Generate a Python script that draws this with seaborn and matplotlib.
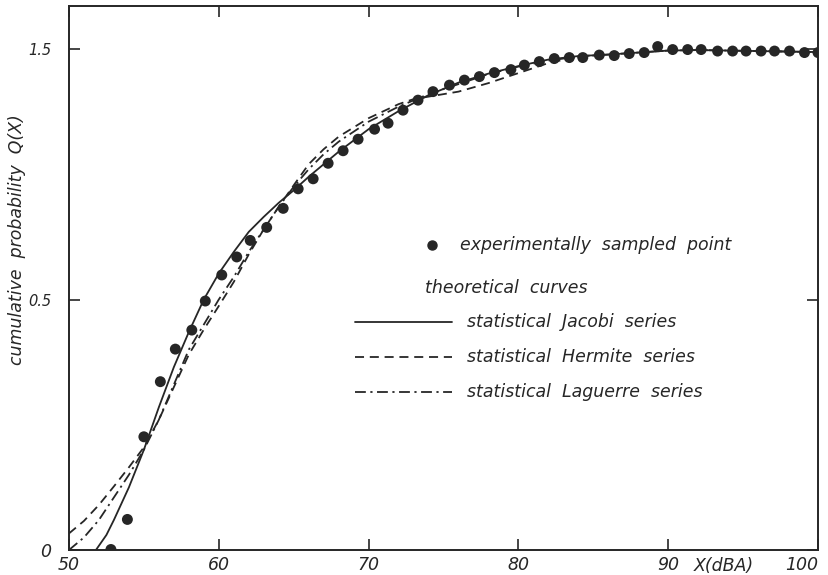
import matplotlib
matplotlib.use("Agg")
import matplotlib.pyplot as plt
import seaborn as sns

# experimentally sampled points, X in dBA and Q(X)
x_points = [52.8, 53.9, 55.0, 56.1, 57.1, 58.2, 59.1, 60.2, 61.2, 62.1, 63.2, 64.3,
            65.3, 66.3, 67.3, 68.3, 69.3, 70.4, 71.3, 72.3, 73.3, 74.3, 75.4, 76.4,
            77.4, 78.4, 79.5, 80.4, 81.4, 82.4, 83.4, 84.3, 85.4, 86.4, 87.4, 88.4,
            89.3, 90.3, 91.3, 92.2, 93.3, 94.3, 95.2, 96.2, 97.1, 98.1, 99.1, 100.0]
q_points = [0.001, 0.061, 0.226, 0.336, 0.401, 0.439, 0.497, 0.549, 0.585, 0.618, 0.644, 0.682,
            0.721, 0.741, 0.772, 0.797, 0.820, 0.840, 0.852, 0.878, 0.898, 0.915, 0.928, 0.938,
            0.945, 0.953, 0.959, 0.968, 0.975, 0.981, 0.983, 0.983, 0.988, 0.987, 0.991, 0.993,
            1.005, 0.999, 0.999, 0.999, 0.996, 0.996, 0.996, 0.996, 0.996, 0.996, 0.993, 0.993]

# theoretical curves
x_jacobi = [51.8, 52.5, 53, 54, 55, 56, 57, 58, 59, 60, 61, 62, 63, 64, 65, 66, 68, 70,
            72, 74, 76, 78, 80, 82, 84, 86, 88, 90, 92, 94, 96, 98, 100]
q_jacobi = [0.0, 0.03, 0.06, 0.125, 0.20, 0.285, 0.365, 0.435, 0.50, 0.552, 0.595, 0.635,
            0.665, 0.693, 0.718, 0.745, 0.795, 0.840, 0.876, 0.908, 0.933, 0.951, 0.966,
            0.979, 0.986, 0.989, 0.993, 0.997, 0.998, 0.997, 0.996, 0.995, 0.994]

x_hermite = [50, 51, 52, 53, 54, 55, 56, 57, 58, 59, 60, 61, 62, 63, 64, 65, 66, 67, 68,
             70, 72, 73, 74, 76, 78, 80, 82, 84, 86, 88, 90, 92, 94, 96, 98, 100]
q_hermite = [0.033, 0.058, 0.09, 0.127, 0.165, 0.205, 0.26, 0.325, 0.39, 0.44, 0.487, 0.535,
             0.59, 0.64, 0.685, 0.728, 0.77, 0.80, 0.825, 0.862, 0.89, 0.90, 0.905, 0.915,
             0.932, 0.952, 0.972, 0.985, 0.99, 0.993, 0.997, 0.998, 0.997, 0.996, 0.995, 0.994]

x_laguerre = [50, 51, 52, 53, 54, 55, 56, 57, 58, 59, 60, 61, 62, 63, 64, 65, 66, 67, 68,
              70, 72, 74, 76, 78, 80, 82, 84, 86, 88, 90, 92, 94, 96, 98, 100]
q_laguerre = [0.0, 0.025, 0.06, 0.105, 0.15, 0.20, 0.26, 0.33, 0.40, 0.45, 0.50, 0.545,
              0.595, 0.64, 0.685, 0.725, 0.76, 0.79, 0.815, 0.855, 0.885, 0.91, 0.93, 0.95,
              0.965, 0.977, 0.985, 0.989, 0.993, 0.997, 0.998, 0.997, 0.996, 0.995, 0.994]

x_ticks = [50, 60, 70, 80, 90, 100]
y_ticks = [0, 0.5, 1.0]
y_tick_labels = ['0', '0.5', '1.5']

sns.set_theme(style='white')
plt.rcParams['font.family'] = ['DejaVu Sans']
ink = '#262626'

fig = plt.figure(figsize=(8.29, 5.75), dpi=100)
ax = fig.add_axes([0.0832, 0.0435, 0.9035, 0.9461])

sns.lineplot(x=x_jacobi, y=q_jacobi, ax=ax, color=ink, lw=1.3)
sns.lineplot(x=x_hermite, y=q_hermite, ax=ax, color=ink, lw=1.3,
             linestyle=(0, (5, 3.2)))
sns.lineplot(x=x_laguerre, y=q_laguerre, ax=ax, color=ink, lw=1.3,
             linestyle=(0, (6, 2.5, 1.2, 2.5)))
sns.scatterplot(x=x_points, y=q_points, ax=ax, color=ink, s=62, edgecolor='none', zorder=5)

ax.set_xlim(50, 100)
ax.set_ylim(0, 1.086)
ax.set_xticks(x_ticks)
ax.set_xticklabels([str(t) for t in x_ticks], fontstyle='italic', fontsize=12.5, color=ink)
ax.get_xticklabels()[-1].set_ha('right')
ax.set_yticks(y_ticks)
ax.set_yticklabels(y_tick_labels, fontstyle='italic', fontsize=10.5, color=ink)
ax.get_yticklabels()[0].set_fontsize(12.5)
ax.tick_params(direction='in', length=8, width=1.2, color=ink, top=True, right=True,
               bottom=True, left=True, pad=4)
ax.tick_params(axis='y', pad=13)
for s in ax.spines.values():
    s.set_color(ink)
    s.set_linewidth(1.4)

ax.text(0.874, -0.012, 'X(dBA)', transform=ax.transAxes, ha='center', va='top',
        fontstyle='italic', fontsize=12.5, color=ink)
fig.text(0.02, 0.583, 'cumulative  probability  Q(X)', rotation=90, ha='center',
         va='center', fontstyle='italic', fontsize=12.5, color=ink)

# legend drawn by hand
def fx(px):
    return (px - 69) / 749

def fy(py):
    return (550 - py) / 544

kw = dict(transform=ax.transAxes, fontstyle='italic', fontsize=12.5, color=ink, va='center')
ax.plot([fx(432)], [fy(245)], 'o', color=ink, ms=6.5, transform=ax.transAxes, clip_on=False)
ax.text(fx(460), fy(245), 'experimentally  sampled  point', **kw)
ax.text(fx(425), fy(288), 'theoretical  curves', **kw)
styles = ['-', (0, (5, 3.2)), (0, (6, 2.5, 1.2, 2.5))]
names = ['statistical  Jacobi  series', 'statistical  Hermite  series',
         'statistical  Laguerre  series']
for py, ls, name in zip([322, 357, 392], styles, names):
    ax.plot([fx(355), fx(452)], [fy(py), fy(py)], color=ink, lw=1.3, linestyle=ls,
            transform=ax.transAxes)
    ax.text(fx(467), fy(py), name, **kw)

fig.savefig('out.png', dpi=100)
